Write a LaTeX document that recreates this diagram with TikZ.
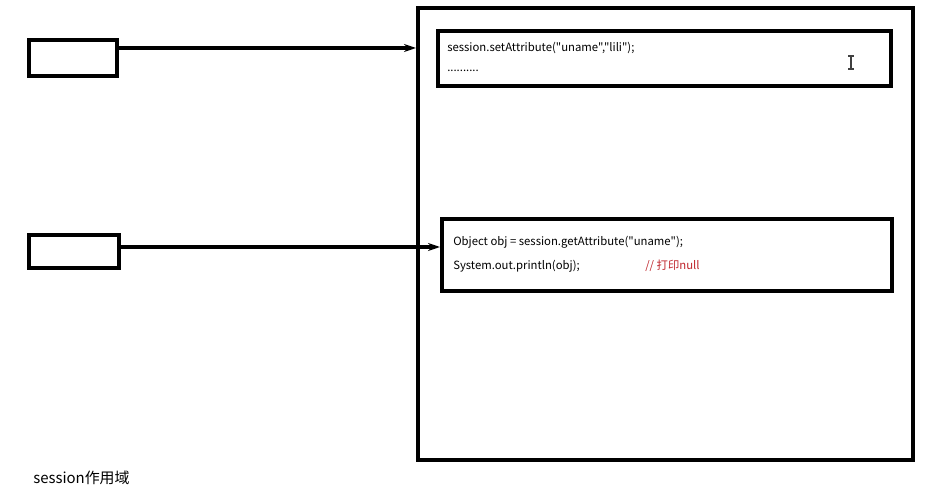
\documentclass[tikz,border=0pt]{standalone}
\usepackage{xcolor}
\usepackage{fontspec}
\setmainfont{Noto Sans CJK SC}
\newfontfamily\codefont{Noto Sans CJK SC}
\usepackage{tikz}
\usetikzlibrary{arrows.meta, positioning, fit, calc}
\definecolor{inkline}{HTML}{000000}
\definecolor{commentred}{HTML}{C0262D}
\tikzset{
  box/.style={
    rectangle, draw=inkline, fill=white,
    line width=3pt, inner sep=0pt
  },
  codeline/.style={
    anchor=west, inner sep=0pt,
    font=\codefont\fontsize{8.5}{10}\selectfont
  },
  arrow/.style={
    -{Stealth[length=9pt,width=6pt]}, line width=2.3pt, color=inkline
  },
  caption/.style={
    anchor=west, inner sep=0pt,
    font=\codefont\fontsize{11.2}{13}\selectfont
  }
}

\begin{document}
\begin{tikzpicture}[x=0.75pt, y=-0.75pt]

  \useasboundingbox (0,0) rectangle (948,498);

  % ── Session scope: outer box ───────────────────────────────────────────
  \node[box, fit={(418,8) (913,460)}] (sessbox) {};

  % ── Code blocks inside the session ─────────────────────────────────────
  \node[box, fit={(438,31) (891,86)}] (setbox) {};
  \node[codeline] (setline) at (447,48) {session.setAttribute("uname","lili");};
  \node[codeline] (dots)    at (447,71) {..........};

  \node[box, fit={(442,219) (892,291)}] (getbox) {};
  \node[codeline] (getline)   at (453,242) {Object obj = session.getAttribute("uname");};
  \node[codeline] (printline) at (453,266) {System.out.println(obj);};
  \node[codeline, text=commentred] (comment) at (645,266) {// 打印null};

  % text cursor
  \draw[line width=0.8pt, color=black!75]
    (848,56) -- (854,56) (851,56) -- (851,69) (848,69) -- (854,69);

  % ── Clients on the left ────────────────────────────────────────────────
  \node[box, fit={(29,40) (117,76)}]  (client1) {};
  \node[box, fit={(29,235) (119,268)}] (client2) {};

  % arrows — requests
  \draw[arrow] (client1.east |- 0,48)  -- (sessbox.west |- 0,48);
  \draw[arrow] (client2.east |- 0,247) -- (getbox.west |- 0,247);

  % caption
  \node[caption] (title) at (33,478) {session作用域};

\end{tikzpicture}
\end{document}
